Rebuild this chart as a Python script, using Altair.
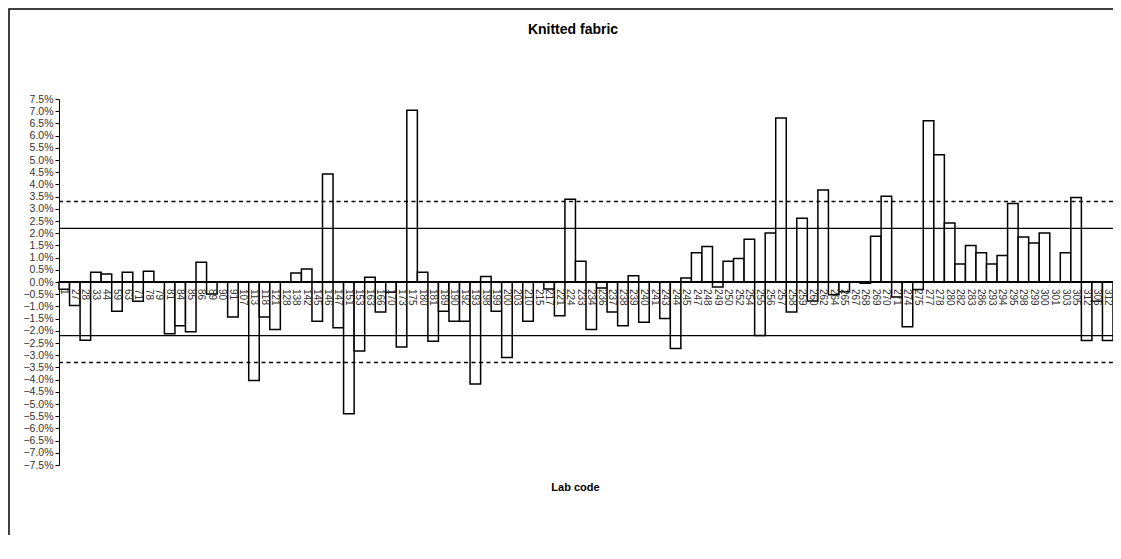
import altair as alt
import pandas as pd

labs = ["1", "27", "28", "33", "44", "59", "63", "71", "78", "79",
        "81", "84", "85", "86", "89", "90", "91", "107", "113", "118",
        "121", "128", "138", "142", "145", "146", "147", "151", "153", "163",
        "166", "170", "173", "175", "180", "181", "189", "190", "192", "193",
        "198", "199", "200", "203", "210", "215", "217", "221", "224", "233",
        "234", "236", "237", "238", "239", "240", "241", "243", "244", "245",
        "247", "248", "249", "250", "252", "254", "255", "256", "257", "258",
        "259", "260", "262", "264", "265", "267", "268", "269", "270", "271",
        "274", "275", "277", "278", "280", "282", "283", "286", "293", "294",
        "295", "298", "299", "300", "301", "303", "305", "312", "306", "312"]

vals = [-0.30, -0.96, -2.39, 0.40, 0.33, -1.20, 0.40, -0.79, 0.44, 0.0,
        -2.12, -1.79, -2.04, 0.81, -0.49, 0.0, -1.43, 0.0, -4.04, -1.43,
        -1.95, 0.0, 0.37, 0.53, -1.61, 4.43, -1.87, -5.40, -2.83, 0.19,
        -1.23, -0.42, -2.66, 7.04, 0.40, -2.43, -1.20, -1.61, -1.61, -4.18,
        0.23, -1.20, -3.09, 0.0, -1.61, 0.0, -0.29, -1.38, 3.39, 0.85,
        -1.95, -0.25, -1.23, -1.79, 0.26, -1.65, 0.0, -1.50, -2.73, 0.16,
        1.20, 1.46, -0.20, 0.85, 0.96, 1.75, -2.19, 2.01, 6.72, -1.23,
        2.61, -0.78, 3.77, -0.52, -0.40, 0.0, -0.05, 1.87, 3.51, -0.61,
        -1.83, -0.31, 6.61, 5.22, 2.42, 0.74, 1.50, 1.20, 0.74, 1.09,
        3.22, 1.84, 1.60, 2.01, 0.0, 1.20, 3.46, -2.40, -0.79, -2.40]

solid_limits = [2.2, -2.2]
dashed_limits = [3.3, -3.3]
y_ticks = [i * 0.5 for i in range(-15, 16)]
title_text = "Knitted fabric"

FONT = "Liberation Sans"

df = pd.DataFrame({"idx": list(range(len(labs))), "lab": labs, "val": vals})

xaxis = alt.Axis(labels=False, ticks=False, domain=False, title="Lab code",
                 titleFont=FONT, titleFontSize=11, titleFontWeight="bold",
                 titleColor="black", titlePadding=16, titleX=516)
xenc = alt.X("idx:O", scale=alt.Scale(paddingInner=0, paddingOuter=0), axis=xaxis)
yscale = alt.Scale(domain=[-7.5, 7.5], nice=False, zero=False)
yaxis = alt.Axis(values=y_ticks, tickCount=100, labelExpr="format(datum.value, '.1f') + '%'",
                 grid=False, title=None, tickSize=4, tickColor="black",
                 domainColor="black", labelFont=FONT, labelFontSize=10.5,
                 labelColor="#333", labelPadding=2, labelOverlap=False)

bars = alt.Chart(df).mark_bar(fill="white", stroke="black", strokeWidth=1.5).encode(
    x=xenc,
    y=alt.Y("val:Q", scale=yscale, axis=yaxis),
    y2=alt.datum(0),
)

solid = alt.Chart(pd.DataFrame({"v": solid_limits})).mark_rule(
    color="black", strokeWidth=1.2).encode(y=alt.Y("v:Q", scale=yscale, axis=yaxis))
dashed = alt.Chart(pd.DataFrame({"v": dashed_limits})).mark_rule(
    color="black", strokeWidth=1.5, strokeDash=[4, 3.5]).encode(
    y=alt.Y("v:Q", scale=yscale, axis=yaxis))
zero = alt.Chart(pd.DataFrame({"v": [0.0]})).mark_rule(
    color="black", strokeWidth=2.2).encode(y=alt.Y("v:Q", scale=yscale, axis=yaxis))

labels = alt.Chart(df).mark_text(angle=90, align="left", baseline="middle", dx=7,
                                 font=FONT, fontSize=10, color="#333").encode(
    x=xenc, y=alt.datum(0), text="lab:N")

frame_df = pd.DataFrame({"t": [title_text]})
title = alt.Chart(frame_df).mark_text(font=FONT, fontSize=14, fontWeight="bold",
                                      color="black", align="center", baseline="middle").encode(
    x=alt.value(514), y=alt.value(-69), text="t:N")
frame = alt.Chart(frame_df).mark_rect(fill="transparent", stroke="black", strokeWidth=1.5).encode(
    x=alt.value(-50), x2=alt.value(1075), y=alt.value(-90), y2=alt.value(475))

chart = alt.layer(bars, solid, dashed, zero, labels, title, frame).properties(
    width=1054, height=366,
    autosize=alt.AutoSizeParams(type="none"),
    padding={"left": 51, "top": 91, "right": 0, "bottom": 70},
).configure(background="white").configure_view(stroke=None).configure_axis(labelOverlap=False)

chart.save("out.html", embed_options={"renderer": "svg", "actions": False})
